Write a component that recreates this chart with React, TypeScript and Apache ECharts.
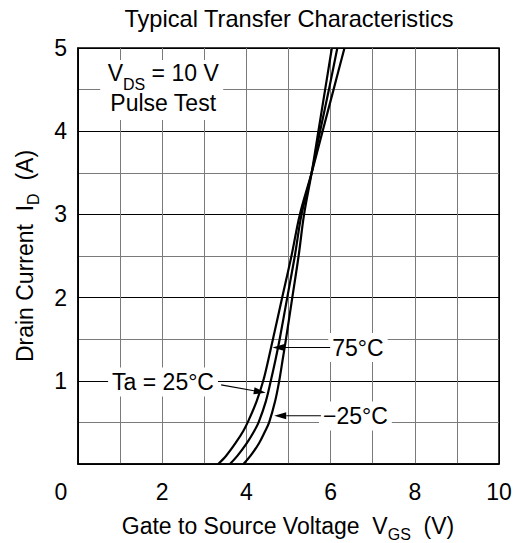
import React, { useEffect, useRef } from 'react';
import * as echarts from 'echarts';

const FONT = '"Liberation Sans", Arial, Helvetica, sans-serif';

// Axis ticks
const gateVoltageLabels = [2, 4, 6, 8, 10];
const drainCurrentLabels = [1, 2, 3, 4, 5];

// Curves: [V_GS (V), I_D (A)]
const curve75C: [number, number][] = [
  [3.33, 0], [3.52, 0.1], [3.74, 0.25], [3.93, 0.4], [4.03, 0.5], [4.24, 0.75],
  [4.4, 1.0], [4.52, 1.25], [4.63, 1.5], [4.85, 2.0], [5.07, 2.5], [5.27, 3.0],
  [5.55, 3.5], [5.81, 4.0], [6.07, 4.5], [6.33, 5.0],
];
const curve25C: [number, number][] = [
  [3.61, 0], [3.79, 0.1], [4.01, 0.25], [4.19, 0.4], [4.29, 0.5], [4.46, 0.75],
  [4.58, 1.0], [4.69, 1.25], [4.79, 1.5], [4.97, 2.0], [5.15, 2.5], [5.31, 3.0],
  [5.55, 3.5], [5.75, 4.0], [5.96, 4.5], [6.16, 5.0],
];
const curveMinus25C: [number, number][] = [
  [3.93, 0], [4.1, 0.1], [4.3, 0.25], [4.45, 0.4], [4.54, 0.5], [4.68, 0.75],
  [4.78, 1.0], [4.86, 1.25], [4.94, 1.5], [5.09, 2.0], [5.24, 2.5], [5.37, 3.0],
  [5.55, 3.5], [5.71, 4.0], [5.87, 4.5], [6.03, 5.0],
];

// Annotations in data coordinates
const arrows: { from: [number, number]; to: [number, number] }[] = [
  { from: [5.99, 1.4], to: [4.62, 1.4] },
  { from: [5.77, 0.58], to: [4.66, 0.58] },
  { from: [3.4, 0.95], to: [4.46, 0.855] },
];
const curveLabels: { text: string; at: [number, number] }[] = [
  { text: '75°C', at: [6.65, 1.4] },
  { text: '−25°C', at: [6.59, 0.577] },
  { text: 'Ta = 25°C', at: [2.02, 0.986] },
];
const conditionLines = ['{a|V}{s|DS}{a| = 10 V}', '{a|Pulse Test}'];

export default function App() {
  const ref = useRef<HTMLDivElement>(null);
  useEffect(() => {
    if (!ref.current) return;
    const chart = echarts.init(ref.current, null, { renderer: 'svg' });
    const grey = '#7a7a7a';
    const xSplit = Array.from({ length: 11 }, (_, i) => (i === 0 || i === 10 ? '#000' : grey));
    const ySplit = Array.from({ length: 11 }, (_, i) => (i % 2 === 0 ? '#000' : grey));
    const lineSeries = (name: string, data: [number, number][]) => ({
      type: 'line',
      name,
      data,
      showSymbol: false,
      smooth: 0.35,
      lineStyle: { color: '#000', width: 2.2 },
      itemStyle: { color: '#000' },
      z: 3,
    });
    chart.setOption({
      animation: false,
      grid: { left: 78, right: 17, top: 48, bottom: 79, show: true, borderColor: '#000', borderWidth: 1.5 },
      xAxis: {
        type: 'value', min: 0, max: 10, interval: 1,
        axisLine: { show: true, lineStyle: { color: '#000', width: 1.5 } },
        axisTick: { show: false },
        axisLabel: {
          fontSize: 23, color: '#000', fontFamily: FONT, margin: 16,
          formatter: (v: number) => (gateVoltageLabels.includes(v) ? String(v) : ''),
        },
        splitLine: { show: true, lineStyle: { color: xSplit, width: 1 } },
      },
      yAxis: {
        type: 'value', min: 0, max: 5, interval: 0.5,
        axisLine: { show: true, lineStyle: { color: '#000', width: 1.5 } },
        axisTick: { show: false },
        axisLabel: {
          fontSize: 23, color: '#000', fontFamily: FONT, margin: 11,
          formatter: (v: number) => (drainCurrentLabels.includes(v) ? String(v) : ''),
        },
        splitLine: { show: true, lineStyle: { color: ySplit, width: 1 } },
      },
      series: [
        lineSeries('75°C', curve75C),
        lineSeries('25°C', curve25C),
        lineSeries('-25°C', curveMinus25C),
      ],
    });

    const px = (p: [number, number]) => chart.convertToPixel({ gridIndex: 0 }, p) as number[];
    const mkRich = (fs: number, lh: number) => ({
      a: { fontSize: fs, fontFamily: FONT, fill: '#000', lineHeight: lh, verticalAlign: 'top' },
      s: { fontSize: 16, fontFamily: FONT, fill: '#000', lineHeight: 12, verticalAlign: 'top', padding: [lh / 2, 0, 0, 0] },
    });
    const textEl = (x: number, y: number, text: string, extra: any = {}, rotation = 0, fs = 23, lh = 23) => ({
      type: 'text', x, y, rotation, z: 20,
      style: {
        text, rich: mkRich(fs, lh), fontSize: fs, fontFamily: FONT, fill: '#000',
        align: 'center', verticalAlign: 'middle', textAlign: 'center', textVerticalAlign: 'middle',
        ...extra,
      },
    });

    const graphics: any[] = [];
    graphics.push(textEl(289, 18, '{a|Typical Transfer Characteristics}', {}, 0, 23.6));
    graphics.push(textEl(288, 526, '{a|Gate to Source Voltage  V}{s|GS}{a|  (V)}'));
    graphics.push(textEl(25, 256, '{a|Drain Current  I}{s|D}{a|  (A)}', {}, Math.PI / 2));
    const origin = px([0, 0]);
    graphics.push(textEl(origin[0] - 17, 492, '{a|0}'));

    const cond = px([2.0, 4.483]);
    graphics.push({
      type: 'rect', z: 15,
      shape: { x: cond[0] - 62, y: cond[1] - 31, width: 123, height: 60 },
      style: { fill: '#fff' },
    });
    graphics.push(textEl(cond[0] + 1, cond[1], conditionLines.join('\n'), {}, 0, 23, 29.5));

    curveLabels.forEach((l) => {
      const p = px(l.at);
      graphics.push(textEl(p[0], p[1], `{a|${l.text}}`, { backgroundColor: '#fff', padding: [3, 4] }));
    });

    arrows.forEach((a) => {
      const f = px(a.from);
      const t = px(a.to);
      const dx = t[0] - f[0];
      const dy = t[1] - f[1];
      const len = Math.hypot(dx, dy);
      const ux = dx / len, uy = dy / len;
      const hl = 12, hw = 3.6;
      const bx = t[0] - ux * hl, by = t[1] - uy * hl;
      graphics.push({
        type: 'line', z: 20,
        shape: { x1: f[0], y1: f[1], x2: bx, y2: by },
        style: { stroke: '#000', lineWidth: 1.2 },
      });
      graphics.push({
        type: 'polygon', z: 20,
        shape: { points: [[t[0], t[1]], [bx - uy * hw, by + ux * hw], [bx + uy * hw, by - ux * hw]] },
        style: { fill: '#000' },
      });
    });

    chart.setOption({ graphic: graphics });
    return () => chart.dispose();
  }, []);
  return <div ref={ref} style={{ position: 'fixed', left: 0, top: 0, width: 516, height: 543, background: '#fff' }} />;
}
